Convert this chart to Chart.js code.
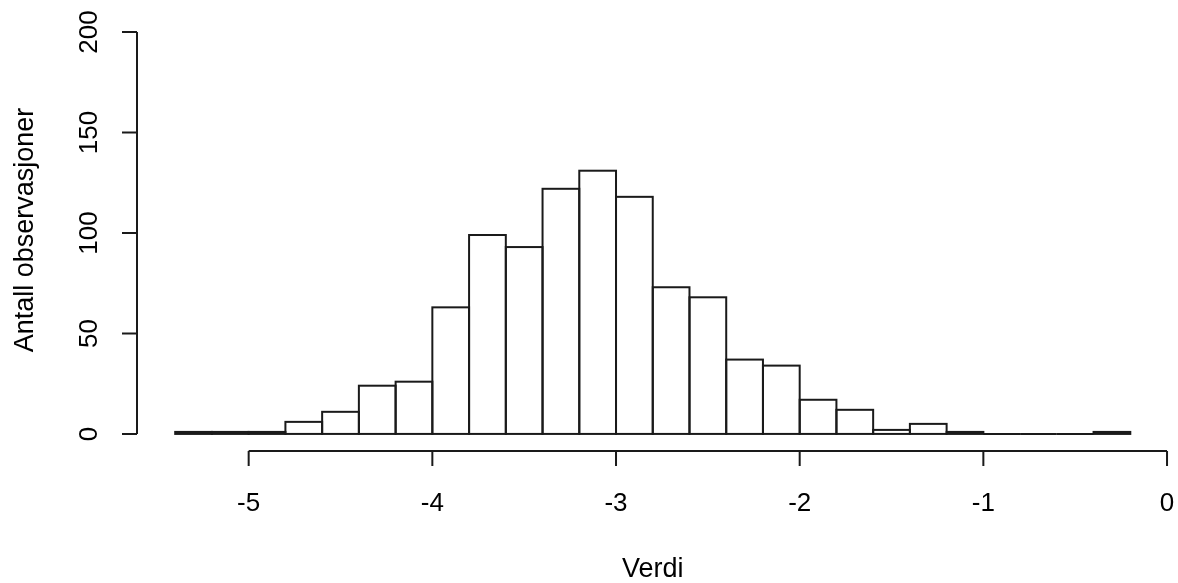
<!DOCTYPE html>
<html>
<head>
<meta charset="utf-8">
<title>Histogram</title>
<script src="https://cdn.jsdelivr.net/npm/chart.js@4"></script>
<style>
  html, body { margin: 0; padding: 0; background: #fff; }
  #wrap { width: 1178px; height: 583px; position: relative; }
</style>
</head>
<body>
<div id="wrap"><canvas id="hist"></canvas></div>
<script>
// bin edges (width 0.2) and counts per bin
const breaks = [-5.4, -5.2, -5.0, -4.8, -4.6, -4.4, -4.2, -4.0, -3.8, -3.6, -3.4, -3.2, -3.0,
                -2.8, -2.6, -2.4, -2.2, -2.0, -1.8, -1.6, -1.4, -1.2, -1.0, -0.8, -0.6, -0.4, -0.2];
const counts = [1, 1, 1, 6, 11, 24, 26, 63, 99, 93, 122, 131, 118,
                73, 68, 37, 34, 17, 12, 2, 5, 1, 0, 0, 0, 1];
const xTicks = [-5, -4, -3, -2, -1, 0];
const yTicks = [0, 50, 100, 150, 200];
const xTitle = "Verdi";
const yTitle = "Antall observasjoner";

const TICK_FONT = "26px 'Liberation Sans', Arial, sans-serif";
const TITLE_FONT = "27px 'Liberation Sans', Arial, sans-serif";
const INK = "#1a1a1a";

const points = counts.map((c, i) => ({ x: (breaks[i] + breaks[i + 1]) / 2, y: c }));

// R style: stroke every bar outline centered on its edges (also the empty ones)
const barOutline = {
    id: "barOutline",
    afterDatasetsDraw(chart) {
        const ctx = chart.ctx;
        const meta = chart.getDatasetMeta(0);
        ctx.save();
        ctx.strokeStyle = INK;
        ctx.lineWidth = 2;
        meta.data.forEach((bar) => {
            const p = bar.getProps(["x", "y", "base", "width"], true);
            ctx.strokeRect(p.x - p.width / 2, p.y, p.width, p.base - p.y);
        });
        ctx.restore();
    },
};

// R style axes: lines run from first to last tick only
const rAxes = {
    id: "rAxes",
    afterDraw(chart) {
        const ctx = chart.ctx;
        const xs = chart.scales.x;
        const ys = chart.scales.y;
        const area = chart.chartArea;
        const tick = 15;
        ctx.save();
        ctx.strokeStyle = INK;
        ctx.fillStyle = "#000";
        ctx.lineWidth = 2;

        // x axis
        const ay = area.bottom + 1;
        ctx.beginPath();
        ctx.moveTo(xs.getPixelForValue(xTicks[0]), ay);
        ctx.lineTo(xs.getPixelForValue(xTicks[xTicks.length - 1]), ay);
        xTicks.forEach((t) => {
            const px = xs.getPixelForValue(t);
            ctx.moveTo(px, ay);
            ctx.lineTo(px, ay + tick);
        });
        ctx.stroke();
        ctx.textAlign = "center";
        ctx.textBaseline = "alphabetic";
        ctx.font = TICK_FONT;
        xTicks.forEach((t) => {
            ctx.fillText(String(t), xs.getPixelForValue(t), 511);
        });
        ctx.font = TITLE_FONT;
        ctx.fillText(xTitle, (area.left + area.right) / 2, 577);

        // y axis
        const ax = area.left;
        ctx.beginPath();
        ctx.moveTo(ax, ys.getPixelForValue(yTicks[0]));
        ctx.lineTo(ax, ys.getPixelForValue(yTicks[yTicks.length - 1]));
        yTicks.forEach((t) => {
            const py = ys.getPixelForValue(t);
            ctx.moveTo(ax, py);
            ctx.lineTo(ax - tick, py);
        });
        ctx.stroke();
        ctx.font = TICK_FONT;
        yTicks.forEach((t) => {
            ctx.save();
            ctx.translate(97, ys.getPixelForValue(t));
            ctx.rotate(-Math.PI / 2);
            ctx.fillText(String(t), 0, 0);
            ctx.restore();
        });
        ctx.font = TITLE_FONT;
        ctx.save();
        ctx.translate(33, (area.top + area.bottom) / 2 - 3);
        ctx.rotate(-Math.PI / 2);
        ctx.fillText(yTitle, 0, 0);
        ctx.restore();

        ctx.restore();
    },
};

new Chart(document.getElementById("hist"), {
    type: "bar",
    data: {
        datasets: [
            {
                data: points,
                backgroundColor: "#ffffff",
                borderWidth: 0,
                barPercentage: 1,
                categoryPercentage: 1,
            },
        ],
    },
    options: {
        responsive: true,
        maintainAspectRatio: false,
        animation: false,
        layout: { padding: { left: 137, right: 9.5, top: 16, bottom: 133 } },
        plugins: { legend: { display: false }, tooltip: { enabled: false } },
        scales: {
            x: { type: "linear", min: -5.608, max: 0.008, offset: false, display: false },
            y: { type: "linear", min: -8, max: 208, display: false },
        },
    },
    plugins: [barOutline, rAxes],
});
</script>
</body>
</html>
